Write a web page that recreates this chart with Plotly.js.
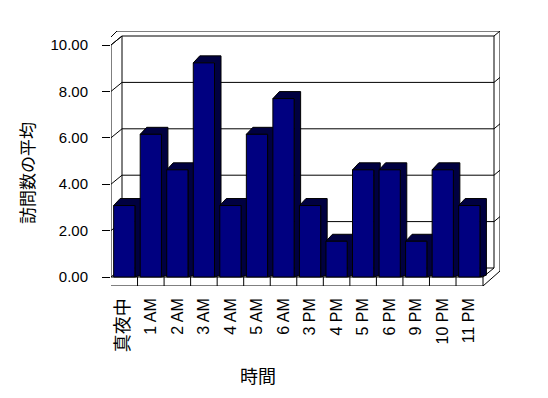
<!DOCTYPE html>
<html>
<head>
<meta charset="utf-8">
<script src="https://cdn.plot.ly/plotly-3.0.1.min.js"></script>
<style>html,body{margin:0;padding:0;background:#fff;}#chart{width:548px;height:398px;}</style>
</head>
<body>
<div id="chart"></div>
<script>
// ---- data ----
var categories = ['真夜中', '1 AM', '2 AM', '3 AM', '4 AM', '5 AM', '6 AM', '3 PM', '4 PM', '5 PM', '6 PM', '9 PM', '10 PM', '11 PM'];
var avgVisits = [3.08, 6.15, 4.62, 9.23, 3.08, 6.15, 7.69, 3.08, 1.54, 4.62, 4.62, 1.54, 4.62, 3.08];
var yTickValues = [0, 2, 4, 6, 8, 10];
var xTitle = '時間';
var yTitle = '訪問数の平均';

// ---- geometry (pixels of the 548x398 frame) ----
var L = 111, T = 31, R = 500, B = 286;      // plot area
var X0PX = 111, CAT = 26.54;                 // x=-0.5 at X0PX, px per category
var Y0PX = 277, UNIT = 23.2;                 // y=0 at Y0PX, px per unit
function X(px) { return -0.5 + (px - X0PX) / CAT; }
function Y(py) { return (Y0PX - py) / UNIT; }
function fy(v) { return Y0PX - v * UNIT; }   // front-plane pixel y of a value

var xRange = [X(L), X(R)];
var yRange = [Y(B), Y(T)];

var shapes = [];
function seg(x0, y0, x1, y1) {
  shapes.push({type: 'line', xref: 'x', yref: 'y', layer: 'below',
    x0: X(x0), y0: Y(y0), x1: X(x1), y1: Y(y1), line: {color: '#000', width: 1}});
}
// walls & floor frame
var BL = 122, BR = 494, BT = 36, BB = 268, DY = 9;
seg(103, 45, 103, 286);      // left wall outer
seg(111, 45, 111, 277);      // left wall inner
seg(103, 45, 117, 31);       // left top outer diagonal
seg(111, 45, BL, BT);        // left top inner diagonal
seg(117, 31, R, 31);         // back wall top outer
seg(BL, BT, BR, BT);         // back wall top inner
seg(R, 31, R, 271);          // right outer
seg(BR, BT, BR, BB);         // right inner
seg(BR, BT, R, 31);          // top-right corner
seg(BL, BT, BL, BB);         // back wall left edge
seg(BL, BB, BR, BB);         // floor back edge
seg(111, 277, 483, 277);     // floor front top edge
seg(103, 286, 483, 286);     // floor front bottom edge
seg(483, 277, BR, BB);       // floor right top diagonal
seg(483, 286, R, 271);       // floor right bottom diagonal
seg(483, 277, 483, 286);
for (var k = 1; k < categories.length; k++) {
  var cx = X0PX + CAT * k;
  seg(cx, 277, cx, 286);
}
// back-wall gridlines with connectors
yTickValues.forEach(function (v) {
  var py = fy(v);
  seg(111, py, BL, py - DY);
  if (v > 0 && v < 10) {
    seg(BL, py - DY, BR, py - DY);
    seg(BR, py - DY, R, py - DY - 5);
  }
});
// 3D top and side faces of each bar, from the data
var HW = 0.4, DDX = 6.5 / CAT, DDY = 7 / UNIT;
avgVisits.forEach(function (v, i) {
  var p = 'M' + (i - HW) + ',' + v +
    ' L' + (i - HW + DDX) + ',' + (v + DDY) +
    ' L' + (i + HW + DDX) + ',' + (v + DDY) +
    ' L' + (i + HW + DDX) + ',' + (0.08) +
    ' L' + (i + HW) + ',0' +
    ' L' + (i + HW) + ',' + v + ' Z';
  shapes.push({type: 'path', xref: 'x', yref: 'y', layer: 'below', path: p,
    fillcolor: '#000040', line: {color: '#000', width: 1}});
});

var tickText = categories.map(function (c) {
  return /[^\x00-\x7f]/.test(c) ? '<span style="font-size:18px">' + c + '</span>' : c;
});

var trace = {
  type: 'bar',
  x: categories.map(function (c, i) { return i; }),
  y: avgVisits,
  width: 0.8,
  marker: {color: '#000080', line: {color: '#000', width: 1}},
  hoverinfo: 'skip'
};

var FONT = 'Liberation Sans, Noto Sans CJK JP, sans-serif';
var layout = {
  width: 548, height: 398,
  margin: {l: L, r: 548 - R, t: T, b: 398 - B, pad: 0},
  paper_bgcolor: '#fff', plot_bgcolor: 'rgba(0,0,0,0)',
  showlegend: false,
  font: {family: FONT, color: '#000', size: 15},
  xaxis: {
    range: xRange, fixedrange: true,
    tickmode: 'array', tickvals: categories.map(function (c, i) { return i; }), ticktext: tickText,
    tickangle: -90, ticks: '', showgrid: false, zeroline: false, showline: false,
    ticklabelstandoff: 8,
    tickfont: {family: FONT, size: 16, color: '#000'}
  },
  yaxis: {
    range: yRange, fixedrange: true,
    tickmode: 'array', tickvals: yTickValues, tickformat: '.2f',
    ticks: 'outside', ticklen: 8, tickwidth: 1, tickcolor: '#000',
    showgrid: false, zeroline: false, showline: false,
    ticklabelstandoff: 11,
    tickfont: {family: FONT, size: 15, color: '#000'}
  },
  shapes: shapes,
  annotations: [
    {text: yTitle, xref: 'paper', yref: 'paper', x: (28 - L) / (R - L), y: (B - 173) / (B - T),
     showarrow: false, textangle: -90, xanchor: 'center', yanchor: 'middle',
     font: {family: FONT, size: 17, color: '#000'}},
    {text: xTitle, xref: 'paper', yref: 'paper', x: (258 - L) / (R - L), y: (B - 377) / (B - T),
     showarrow: false, xanchor: 'center', yanchor: 'middle',
     font: {family: FONT, size: 18, color: '#000'}}
  ]
};

Plotly.newPlot('chart', [trace], layout, {staticPlot: true, displayModeBar: false});
</script>
</body>
</html>
